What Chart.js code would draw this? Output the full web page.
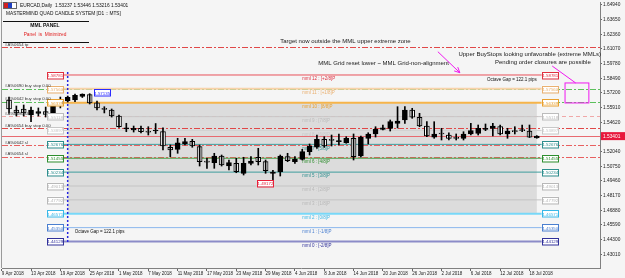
<!DOCTYPE html>
<html>
<head>
<meta charset="utf-8">
<script src="https://cdn.jsdelivr.net/npm/chart.js@4.4.1/dist/chart.umd.min.js"></script>
<style>
html, body { margin: 0; padding: 0; background: #f5f5f5; }
canvas { display: block; }
</style>
</head>
<body>
<canvas id="chart" width="625" height="278"></canvas>
<script>
// EURCAD daily bars, index 0 = 9 Apr 2018 (first bar sits off the left edge)
const dates = [
  "9 Apr 2018","10 Apr 2018","11 Apr 2018","12 Apr 2018","13 Apr 2018","16 Apr 2018","17 Apr 2018","18 Apr 2018","19 Apr 2018","20 Apr 2018",
  "23 Apr 2018","24 Apr 2018","25 Apr 2018","26 Apr 2018","27 Apr 2018","30 Apr 2018","1 May 2018","2 May 2018","3 May 2018","4 May 2018",
  "7 May 2018","8 May 2018","9 May 2018","10 May 2018","11 May 2018","14 May 2018","15 May 2018","16 May 2018","17 May 2018","18 May 2018",
  "21 May 2018","22 May 2018","23 May 2018","24 May 2018","25 May 2018","28 May 2018","29 May 2018","30 May 2018","31 May 2018","1 Jun 2018",
  "4 Jun 2018","5 Jun 2018","6 Jun 2018","7 Jun 2018","8 Jun 2018","11 Jun 2018","12 Jun 2018","13 Jun 2018","14 Jun 2018","15 Jun 2018",
  "18 Jun 2018","19 Jun 2018","20 Jun 2018","21 Jun 2018","22 Jun 2018","25 Jun 2018","26 Jun 2018","27 Jun 2018","28 Jun 2018","29 Jun 2018",
  "2 Jul 2018","3 Jul 2018","4 Jul 2018","5 Jul 2018","6 Jul 2018","9 Jul 2018","10 Jul 2018","11 Jul 2018","12 Jul 2018","13 Jul 2018",
  "16 Jul 2018","17 Jul 2018","18 Jul 2018","19 Jul 2018"
]
const opens = [null,
  1.5658,1.5570,1.5579,1.5526,1.5541,1.5555,1.5541,1.5623,1.5652,1.5658,
  1.5689,1.5706,1.5632,1.5585,1.5570,1.5517,1.5403,1.5394,1.5409,1.5383,
  1.5385,1.5379,1.5242,1.5224,1.5271,1.5295,1.5247,1.5121,1.5107,1.5165,
  1.5077,1.5101,1.5013,1.5101,1.5154,1.5115,1.5011,1.5027,1.5159,1.5115,
  1.5136,1.5203,1.5242,1.5312,1.5310,1.5291,1.5282,1.5321,1.5165,1.5319,
  1.5359,1.5400,1.5409,1.5453,1.5482,1.5570,1.5506,1.5429,1.5330,1.5365,
  1.5350,1.5328,1.5321,1.5359,1.5365,1.5400,1.5409,1.5423,1.5359,1.5385,
  1.5394,1.5385,1.53237]
const highs = [null,
  1.5684,1.5605,1.5614,1.5596,1.5588,1.5596,1.5640,1.5684,1.5693,1.5711,
  1.5712,1.57135,1.5649,1.5599,1.5579,1.5526,1.5453,1.5429,1.5429,1.5423,
  1.5451,1.5412,1.5262,1.5321,1.5321,1.5312,1.5262,1.5145,1.5189,1.5174,
  1.5130,1.5145,1.5154,1.5159,1.5233,1.5130,1.5038,1.5174,1.5189,1.5159,
  1.5224,1.5271,1.5350,1.5335,1.5350,1.5359,1.5335,1.5359,1.5341,1.5370,
  1.5423,1.5438,1.5482,1.5599,1.5599,1.5585,1.5541,1.5467,1.5467,1.5409,
  1.5370,1.5359,1.5379,1.5453,1.5438,1.5447,1.5453,1.5438,1.5409,1.5423,
  1.5438,1.5438,1.53446]
const lows = [null,
  1.5544,1.5517,1.5517,1.5467,1.5517,1.5508,1.5526,1.5588,1.5640,1.5643,
  1.5680,1.5623,1.5570,1.5544,1.5508,1.5416,1.5379,1.5376,1.5368,1.5350,
  1.5363,1.5218,1.5159,1.5189,1.5262,1.5242,1.5077,1.5057,1.5057,1.5077,
  1.5042,1.5018,1.4998,1.5086,1.5086,1.5013,1.49172,1.4989,1.5115,1.5101,
  1.5130,1.5174,1.5233,1.5242,1.5253,1.5262,1.5277,1.5130,1.5154,1.5271,
  1.5332,1.5394,1.5385,1.5412,1.5453,1.5497,1.5423,1.5335,1.5321,1.5306,
  1.5306,1.5306,1.5306,1.5350,1.5350,1.5388,1.5341,1.5350,1.5321,1.5359,
  1.5379,1.5328,1.53216]
const closes = [null,
  1.5579,1.5544,1.5544,1.5570,1.5555,1.5532,1.5623,1.5649,1.5682,1.5698,
  1.5709,1.5632,1.5588,1.5576,1.5517,1.5423,1.5414,1.5409,1.5379,1.5374,
  1.5394,1.5253,1.5218,1.5282,1.5291,1.5253,1.5115,1.5112,1.5165,1.5086,
  1.5107,1.5027,1.5101,1.5121,1.5115,1.5036,1.5024,1.5165,1.5124,1.5139,
  1.5203,1.5253,1.5312,1.5253,1.5302,1.5297,1.5321,1.5159,1.5330,1.5359,
  1.5400,1.5414,1.5467,1.5473,1.5570,1.5506,1.5429,1.5341,1.5359,1.5359,
  1.5321,1.5321,1.5359,1.5388,1.5409,1.5409,1.5429,1.5359,1.5385,1.5379,
  1.5388,1.5330,1.53401]

const dateTicks = [0,4,8,12,16,20,24,28,32,36,40,44,48,52,56,60,64,68,72]
const priceTicks = [1.64940,1.63650,1.62360,1.61070,1.59780,1.58490,1.57200,1.55910,1.54620,
  1.53330,1.52040,1.50750,1.49460,1.48170,1.46880,1.45590,1.44300,1.43010]

// Murrey math levels, mml 0 .. mml 12
const mmlLevels = [1.44129,1.45350,1.46571,1.47792,1.49013,1.50234,1.51455,1.52676,1.53897,1.55118,1.56339,1.57560,1.58781]
const mmlNames = ["mml 0 : [-2/8]P","mml 1 : [-1/8]P","mml 2 : [0/8]P","mml 3 : [1/8]P","mml 4 : [2/8]P","mml 5 : [3/8]P",
  "mml 6 : [4/8]P","mml 7 : [5/8]P","mml 8 : [6/8]P","mml 9 : [7/8]P","mml 10 : [8/8]P","mml 11 : [+1/8]P","mml 12 : [+2/8]P"]
const mmlStartBar = 9
const octaveGapPips = 122.1

// pending order lines
const orderPrices = [1.61200,1.57590,1.56430,1.55130,1.54090,1.52620,1.51590]
const orderLabels = ["#A%0654 tp","#A%0690 buy stop 0.00","#A%0642 buy stop 0.00","#A%0690 sl",
  "#A%0654 buy stop 0.00","#A%0642 sl","#A%0654 sl"]

const symbolTitle = "EURCAD,Daily  1.53237 1.53446 1.53216 1.53401"
const systemTitle = "MASTERMIND QUAD CANDLE SYSTEM [D1 :: MTS]"
const currentPrice = 1.53401

// notes written on the chart, anchored at [bar, price]
const notes = [
    {text: "Target now outside the MML upper extreme zone", at: [38.0, 1.6173]},
    {text: "MML Grid reset lower ~ MML Grid-non-alignment", at: [43.2, 1.5984]},
    {text: "Upper BuyStops looking unfavorable (extreme MMLs)", at: [62.3, 1.6063]},
    {text: "Pending order closures are possible", at: [67.3, 1.5992]}
]
const arrows = [
    {from: [59.5, 1.6083], to: [62.5, 1.5898], head: true},
    {from: [75.1, 1.5957], to: [78.3, 1.5808], head: false}
]
const noteBox = {from: [76.85, 1.5808], to: [80.1, 1.5632]}

// ---- styles ----
const FONT = '"Liberation Sans", Arial, sans-serif'
const mmlStyle = [
    {c: "#8c8cc8", w: 2, box: "#30309a"},
    {c: "#8cb8ee", w: 1, box: "#4a7fd0"},
    {c: "#78d8f8", w: 2, box: "#38b8e8"},
    {c: "#c4c4c4", w: 1, box: "#b8b8b8"},
    {c: "#c4c4c4", w: 1, box: "#b8b8b8"},
    {c: "#3e9e9e", w: 1, box: "#2e8e8e"},
    {c: "#46a046", w: 1, box: "#2e8e2e"},
    {c: "#3e9e9e", w: 1, box: "#2e8e8e"},
    {c: "#d2d2d2", w: 1, box: "#c8c8c8"},
    {c: "#c8c8c8", w: 1, box: "#bcbcbc"},
    {c: "#f6b44a", w: 2, box: "#e8a030"},
    {c: "#f8d2a8", w: 2, box: "#eab070"},
    {c: "#e8505a", w: 1, box: "#e03040"}
]
const orderStyle = [
    {c: "#e04848", dash: [6, 2, 2, 2]},
    {c: "#5cc05c", dash: [6, 2, 2, 2]},
    {c: "#5cc05c", dash: [6, 2, 2, 2]},
    {c: "#f0a8a8", dash: [4, 3]},
    {c: "#e04848", dash: [6, 2, 2, 2]},
    {c: "#e86060", dash: [6, 2, 2, 2]},
    {c: "#e86060", dash: [6, 2, 2, 2]}
]

const bars = dates.map((d, i) => i).filter(i => opens[i] != null)
const lastBar = bars[bars.length - 1]

function txt(ctx, s, x, y, size, color, align, base, weight) {
    ctx.font = (weight || "") + " " + size + "px " + FONT
    ctx.fillStyle = color
    ctx.textAlign = align || "left"
    ctx.textBaseline = base || "middle"
    ctx.fillText(s, x, y)
}

function hline(ctx, x1, x2, y, color, width, dash) {
    ctx.save()
    ctx.strokeStyle = color
    ctx.lineWidth = width
    ctx.setLineDash(dash || [])
    ctx.beginPath()
    ctx.moveTo(x1, y)
    ctx.lineTo(x2, y)
    ctx.stroke()
    ctx.restore()
}

function priceBox(ctx, value, x, y, color, alignRight) {
    const w = 16, h = 6.5
    const left = alignRight ? x - w : x
    ctx.fillStyle = "#ffffff"
    ctx.fillRect(left, y - h / 2, w, h)
    ctx.strokeStyle = color
    ctx.lineWidth = 1
    ctx.strokeRect(Math.round(left) + 0.5, Math.round(y - h / 2) + 0.5, w, h)
    txt(ctx, value.toFixed(5), left + w / 2 + 0.5, y + 0.8, 4.4, color, "center")
}

const overlay = {
    id: "mmlOverlay",
    beforeDraw(chart) {
        const ctx = chart.ctx
        ctx.save()
        ctx.fillStyle = "#f5f5f5"
        ctx.fillRect(0, 0, chart.width, chart.height)
        ctx.restore()
    },
    beforeDatasetsDraw(chart) {
        const ctx = chart.ctx, xs = chart.scales.x, ys = chart.scales.y, a = chart.chartArea
        const px = v => xs.getPixelForValue(v), py = v => ys.getPixelForValue(v)
        ctx.save()

        // shaded zone between mml 2 and mml 10
        ctx.fillStyle = "#dcdcdc"
        ctx.fillRect(px(mmlStartBar), py(mmlLevels[10]), px(lastBar) - px(mmlStartBar), py(mmlLevels[2]) - py(mmlLevels[10]))

        // order lines across the full chart
        orderPrices.forEach((p, i) => {
            hline(ctx, a.left, a.right, Math.round(py(p)) + 0.5, orderStyle[i].c, 1, orderStyle[i].dash)
        })
        // bid line
        hline(ctx, a.left, a.right, Math.round(py(currentPrice)) + 0.5, "#e86a70", 1)

        // MML grid lines + names
        const x1 = px(mmlStartBar) - 5, x2 = px(lastBar) + 5
        mmlLevels.forEach((p, i) => {
            const y = py(p)
            hline(ctx, x1, x2, y, mmlStyle[i].c, mmlStyle[i].w)
            txt(ctx, mmlNames[i], (x1 + x2) / 2, y + 4, 4.5, mmlStyle[i].box, "left")
        })

        // start bar marker
        ctx.strokeStyle = "#2424e0"
        ctx.lineWidth = 1.5
        ctx.setLineDash([2, 2])
        ctx.beginPath()
        ctx.moveTo(px(mmlStartBar), py(mmlLevels[12]) - 3)
        ctx.lineTo(px(mmlStartBar), py(mmlLevels[0]) + 2)
        ctx.stroke()
        ctx.setLineDash([])

        txt(ctx, "Octave Gap = " + octaveGapPips + " pips", px(lastBar), py(mmlLevels[12]) + 4.5, 4.5, "#111", "right")
        txt(ctx, "Octave Gap = " + octaveGapPips + " pips", px(mmlStartBar) + 7, py(mmlLevels[1]) + 4.5, 4.5, "#111", "left")

        // notes and arrows
        notes.forEach(n => txt(ctx, n.text, px(n.at[0]), py(n.at[1]), 6, "#1a1a1a", "left"))
        ctx.strokeStyle = "#f018f0"
        ctx.lineWidth = 1
        arrows.forEach(ar => {
            const sx = px(ar.from[0]), sy = py(ar.from[1]), ex = px(ar.to[0]), ey = py(ar.to[1])
            ctx.beginPath()
            ctx.moveTo(sx, sy)
            ctx.lineTo(ex, ey)
            if (ar.head) {
                const ang = Math.atan2(ey - sy, ex - sx)
                for (const d of [-0.45, 0.45]) {
                    ctx.moveTo(ex, ey)
                    ctx.lineTo(ex - 6 * Math.cos(ang + d), ey - 6 * Math.sin(ang + d))
                }
            }
            ctx.stroke()
        })
        ctx.strokeRect(px(noteBox.from[0]), py(noteBox.from[1]), px(noteBox.to[0]) - px(noteBox.from[0]), py(noteBox.to[1]) - py(noteBox.from[1]))
        ctx.restore()
    },
    afterDatasetsDraw(chart) {
        const ctx = chart.ctx, xs = chart.scales.x, ys = chart.scales.y, a = chart.chartArea
        const px = v => xs.getPixelForValue(v), py = v => ys.getPixelForValue(v)
        ctx.save()

        // MML price boxes, left and right
        const x1 = px(mmlStartBar) - 5, x2 = px(lastBar) + 5
        mmlLevels.forEach((p, i) => {
            priceBox(ctx, p, x1, py(p), mmlStyle[i].box, true)
            priceBox(ctx, p, x2, py(p), mmlStyle[i].box, false)
        })

        // highest high / lowest low inside the grid window
        let hi = mmlStartBar, lo = mmlStartBar
        bars.forEach(i => {
            if (i < mmlStartBar) return
            if (highs[i] > highs[hi]) hi = i
            if (lows[i] < lows[lo]) lo = i
        })
        priceBox(ctx, highs[hi], px(hi) + 4, py(highs[hi]) - 1, "#2b2bff", false)
        priceBox(ctx, lows[lo], px(lo), py(lows[lo]) - 1, "#e8203a", true)

        // order labels
        orderPrices.forEach((p, i) => {
            txt(ctx, orderLabels[i], a.left + 3, py(p) - 0.5, 4.3, "#333", "left", "bottom")
        })

        // header + panel
        ctx.fillStyle = "#d02020"
        ctx.fillRect(3, 2, 5, 7)
        ctx.fillStyle = "#2040c0"
        ctx.fillRect(8, 2, 4, 7)
        ctx.fillStyle = "#ffffff"
        ctx.fillRect(12, 2, 4, 7)
        ctx.strokeStyle = "#666"
        ctx.strokeRect(3.5, 2.5, 13, 6)
        txt(ctx, symbolTitle, 20, 5.5, 4.8, "#111", "left")
        txt(ctx, systemTitle, 6, 13.5, 4.8, "#111", "left")
        hline(ctx, 3, 89, 21.5, "#111", 1)
        txt(ctx, "MML PANEL", 45, 26, 5, "#111", "center", "middle", "bold")
        txt(ctx, "Panel  is  Minimized", 45, 35, 4.8, "#e02020", "center")
        hline(ctx, 3, 89, 42.5, "#111", 1)

        // current price tag on the axis
        const cy = py(currentPrice)
        ctx.fillStyle = "#e8183c"
        ctx.fillRect(a.right + 1, cy - 4, 24, 8)
        txt(ctx, currentPrice.toFixed(5), a.right + 3, cy + 0.5, 4.8, "#ffffff", "left")

        // left border
        ctx.strokeStyle = "#9a9a9a"
        ctx.lineWidth = 1
        ctx.beginPath()
        ctx.moveTo(1.5, 0)
        ctx.lineTo(1.5, a.bottom)
        ctx.stroke()
        ctx.restore()
    }
}

const wickData = bars.map(i => ({x: i, y: [lows[i], highs[i]]}))
const bodyData = bars.map(i => ({x: i, y: [opens[i], closes[i]]}))
const bodyFill = bars.map(i => closes[i] >= opens[i] ? "#000000" : "#ffffff")

new Chart(document.getElementById("chart"), {
    type: "bar",
    data: {
        datasets: [
            {
                label: "wick",
                data: wickData,
                backgroundColor: "#000000",
                barThickness: 1,
                grouped: false,
                minBarLength: 1
            },
            {
                label: "body",
                data: bodyData,
                backgroundColor: bodyFill,
                borderColor: "#000000",
                borderWidth: 1,
                borderSkipped: false,
                barThickness: 5,
                grouped: false,
                minBarLength: 1
            }
        ]
    },
    options: {
        responsive: false,
        animation: false,
        layout: {padding: {left: 2, top: 2, right: 0, bottom: 0}, autoPadding: false},
        plugins: {legend: {display: false}, tooltip: {enabled: false}},
        scales: {
            x: {
                type: "linear",
                offset: false,
                min: 0.04,
                max: 81.62,
                afterBuildTicks: s => { s.ticks = dateTicks.map(v => ({value: v})) },
                afterFit: s => { s.height = 10; s.paddingLeft = 0; s.paddingRight = 0 },
                grid: {display: true, offset: false, drawOnChartArea: false, tickLength: 3, color: "#666"},
                border: {display: true, color: "#808080"},
                ticks: {
                    autoSkip: false,
                    maxRotation: 0,
                    align: "start",
                    padding: 0,
                    font: {size: 4.5},
                    color: "#222",
                    callback: v => dates[v]
                }
            },
            y: {
                type: "linear",
                position: "right",
                min: 1.41796,
                max: 1.65204,
                afterBuildTicks: s => { s.ticks = priceTicks.map(v => ({value: v})) },
                afterFit: s => { s.width = 25; s.paddingTop = 0; s.paddingBottom = 0 },
                grid: {display: true, drawOnChartArea: false, tickLength: 2, color: "#666"},
                border: {display: true, color: "#808080"},
                ticks: {
                    padding: 1,
                    font: {size: 4.8},
                    color: "#222",
                    callback: v => v.toFixed(5)
                }
            }
        }
    },
    plugins: [overlay]
})
</script>
</body>
</html>
